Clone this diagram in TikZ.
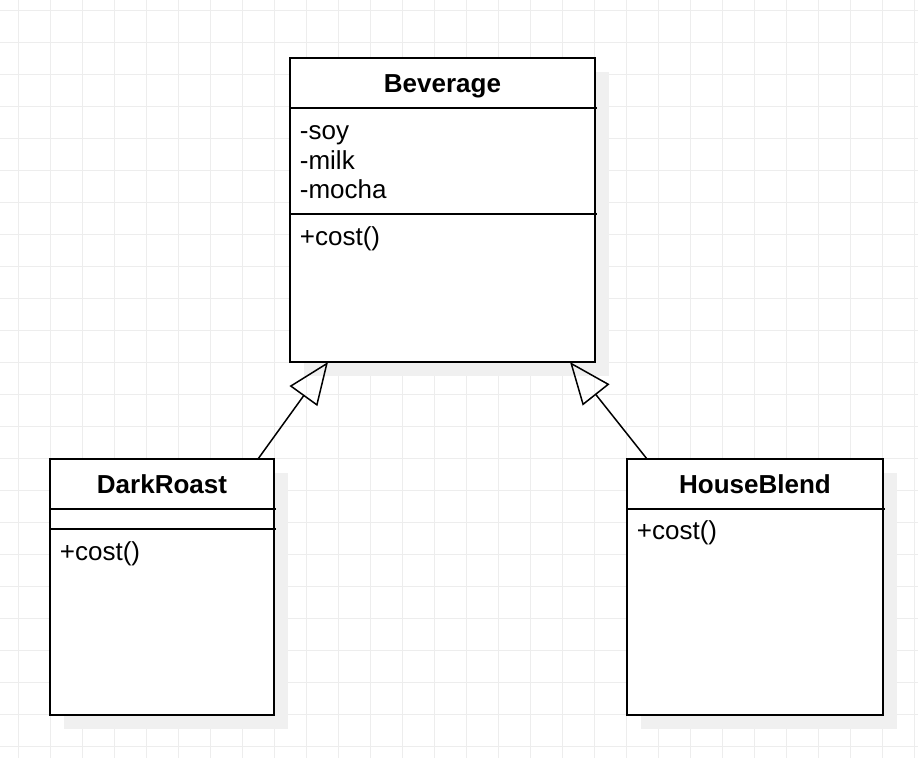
\documentclass[tikz,border=0pt]{standalone}
\usepackage{fontspec}
\setmainfont{Liberation Sans}
\usetikzlibrary{arrows.meta,positioning,shadows}

\begin{document}
\begin{tikzpicture}[x=1pt,y=-1pt,line width=1.8pt,
    classbox/.style={draw,fill=white,rectangle,outer sep=0pt,inner sep=0pt,
      drop shadow={shadow xshift=14pt,shadow yshift=-14pt,fill=black!6,opacity=1}},
    classname/.style={font=\fontsize{26}{29.3}\selectfont\bfseries,inner sep=0pt,anchor=base},
    members/.style={font=\fontsize{26}{29.3}\selectfont,inner sep=0pt,anchor=north west,align=left},
    gridline/.style={draw=black!7,line width=1pt},
    inherit/.style={-{Triangle[open,length=42pt,width=34pt]},line width=1.5pt}]
  \useasboundingbox (0,0) rectangle (918,758);
  % background grid
  \foreach \gx in {18,50,...,914} \draw[gridline] (\gx,0) -- (\gx,758);
  \foreach \gy in {10,42,...,746} \draw[gridline] (0,\gy) -- (918,\gy);

  % classes
  \node[classbox,minimum width=305pt,minimum height=304pt]  (bev)   at (442.5,210)                     {};
  \node[classbox,minimum width=224pt,minimum height=256pt]  (dark)  [below left=97pt and 16pt of bev]  {};
  \node[classbox,minimum width=256pt,minimum height=256pt]  (house) [below right=97pt and 32pt of bev] {};

  \node[classname] (bevname)   at ([yshift=-34pt]bev.north)   {Beverage};
  \node[classname] (darkname)  at ([yshift=-34pt]dark.north)  {DarkRoast};
  \node[classname] (housename) at ([yshift=-34pt]house.north) {HouseBlend};

  % compartments
  \draw ([yshift=-50pt]bev.north west)   -- ([xshift=2pt,yshift=-50pt]bev.north east);
  \draw ([yshift=-156pt]bev.north west)  -- ([xshift=2pt,yshift=-156pt]bev.north east);
  \draw ([yshift=-50pt]dark.north west)  -- ([xshift=2pt,yshift=-50pt]dark.north east);
  \draw ([yshift=-70pt]dark.north west)  -- ([xshift=2pt,yshift=-70pt]dark.north east);
  \draw ([yshift=-50pt]house.north west) -- ([xshift=2pt,yshift=-50pt]house.north east);

  \node[members] (bevattr)  at ([xshift=9pt,yshift=-60.5pt]bev.north west)  {\strut-soy\\-milk\\-mocha};
  \node[members] (bevops)   at ([xshift=9pt,yshift=-166.5pt]bev.north west) {\strut+cost()};
  \node[members] (darkops)  at ([xshift=9pt,yshift=-80.5pt]dark.north west) {\strut+cost()};
  \node[members] (houseops) at ([xshift=9pt,yshift=-59.5pt]house.north west) {\strut+cost()};

  % generalisation
  \draw[inherit] ([xshift=-16pt]dark.north east) -- ([xshift=38pt]bev.south west);
  \draw[inherit] ([xshift=20pt]house.north west) -- ([xshift=-25pt]bev.south east);
\end{tikzpicture}
\end{document}
